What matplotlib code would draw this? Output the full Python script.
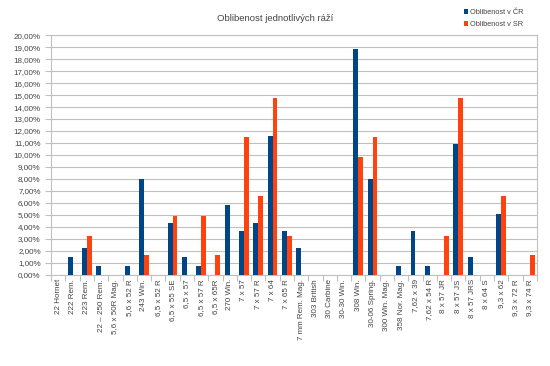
import matplotlib
matplotlib.use("Agg")
import matplotlib.pyplot as plt
import numpy as np
from matplotlib.ticker import FuncFormatter, MultipleLocator

plt.rcParams['font.family'] = ['Liberation Sans', 'DejaVu Sans']

# rÃ¡Å¾e a oblibenost (v %)
razi = ["22 Hornet", "222 Rem.", "223 Rem.", "22 – 250 Rem.", "5,6 x 50R Mag.",
        "5,6 x 52 R", "243 Win.", "6,5 x 52 R", "6,5 x 55 SE", "6,5 x 57",
        "6,5 x 57 R", "6,5 x 65R", "270 Win.", "7 x 57", "7 x 57 R", "7 x 64",
        "7 x 65 R", "7 mm Rem. Mag.", "303 British", "30 Carbine", "30-30 Win.",
        "308 Win.", "30-06 Spring.", "300 Win. Mag.", "358 Nor. Mag.", "7,62 x 39",
        "7,62 x 54 R", "8 x 57 JR", "8 x 57 JS", "8 x 57 JRS", "8 x 64 S",
        "9,3 x 62", "9,3 x 72 R", "9,3 x 74 R"]
cr = [0, 1.45, 2.2, 0.72, 0, 0.72, 8.0, 0, 4.35, 1.45,
      0.72, 0, 5.8, 3.62, 4.35, 11.6, 3.62, 2.2, 0, 0, 0,
      18.85, 8.0, 0, 0.72, 3.62, 0.72, 0, 10.9, 1.45, 0,
      5.07, 0, 0]
sr = [0, 0, 3.28, 0, 0, 0, 1.64, 0, 4.92, 0,
      4.92, 1.64, 0, 11.48, 6.56, 14.75, 3.28, 0, 0, 0, 0,
      9.84, 11.48, 0, 0, 0, 0, 3.28, 14.75, 0, 0,
      6.56, 0, 1.64]

modra = "#004586"
oranzova = "#ff420e"

fig = plt.figure(figsize=(5.5, 3.66), dpi=100)
ax = fig.add_axes([0.093, 0.249, 0.883, 0.655])

x = np.arange(len(razi))
w = 0.34
ax.bar(x - w/2, cr, w, color=modra, label="Oblibenost v ČR", zorder=3)
ax.bar(x + w/2, sr, w, color=oranzova, label="Oblibenost v SR", zorder=3)

ax.set_xlim(-0.5, len(razi) - 0.5)
ax.set_ylim(0, 20)
ax.yaxis.set_major_locator(MultipleLocator(1))
ax.yaxis.set_major_formatter(FuncFormatter(lambda v, p: ("%.2f%%" % v).replace(".", ",")))
ax.grid(axis="y", color="#c0c0c0", linewidth=0.8, zorder=0)

# carky mezi kategoriemi
ax.set_xticks(np.arange(-0.5, len(razi), 1), minor=False)
ax.set_xticklabels([])
ax.set_xticks(x, minor=True)
ax.set_xticklabels(razi, minor=True, rotation=90, fontsize=5.8, color="#444444")
ax.tick_params(axis="x", which="minor", length=0, pad=3)
ax.tick_params(axis="x", which="major", length=4, color="#c0c0c0")
ax.tick_params(axis="y", length=4, color="#c0c0c0", labelsize=5.8, labelcolor="#444444")

for s in ax.spines.values():
    s.set_color("#c0c0c0")

fig.text(0.5, 0.95, "Oblibenost jednotlivých ráží", ha="center", va="center",
         fontsize=6.8, color="#444444")
fig.legend(loc="upper right", bbox_to_anchor=(0.962, 0.99), fontsize=5.3, frameon=False,
           handlelength=0.6, handleheight=0.6, handletextpad=0.3, labelspacing=0.7,
           borderpad=0.2, labelcolor="#444444")

fig.savefig("out.png", dpi=100)
